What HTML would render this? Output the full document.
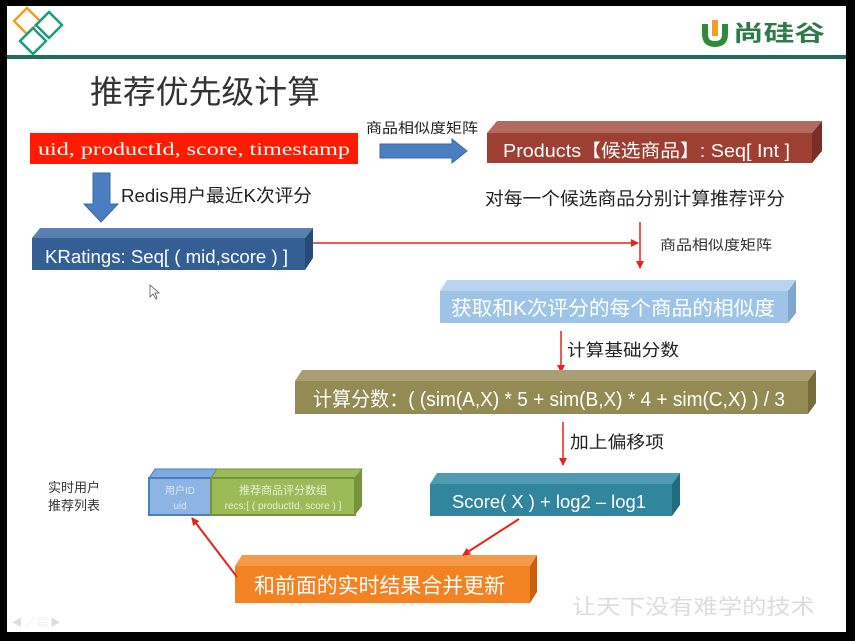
<!DOCTYPE html>
<html><head><meta charset="utf-8"><style>
html,body{margin:0;padding:0;background:#000;}
svg{display:block;}
text{font-family:"Liberation Sans","Noto Sans CJK SC",sans-serif;}
.mono{font-family:"Liberation Serif","Noto Sans CJK SC",serif;}
</style></head><body>
<svg width="855" height="641" viewBox="0 0 855 641" xmlns="http://www.w3.org/2000/svg">
<defs>
<marker id="ar" markerWidth="8" markerHeight="8" refX="7" refY="4" orient="auto" markerUnits="userSpaceOnUse"><path d="M0,0 L8,4 L0,8 z" fill="#e8231b"/></marker>
</defs>
<rect x="0" y="0" width="855" height="641" fill="#000"/>
<rect x="7" y="6" width="839" height="626" fill="#fff"/>
<rect x="7" y="55" width="839" height="4" fill="#1f6e5e"/>
<g fill="none" stroke-width="2.5">
<path d="M27,8 L40,21 L27,34 L14,21 z" stroke="#f0a020"/>
<path d="M49,12 L62,25 L49,38 L36,25 z" stroke="#1a9a86"/>
<path d="M33,28 L46,41 L33,54 L20,41 z" stroke="#1a9a86"/>
</g>
<path d="M705,24 L705,34 Q705,44 715,44 Q725,44 725,34 L725,24" fill="none" stroke="#2f8a3a" stroke-width="6"/>
<rect x="712" y="20" width="6" height="16" fill="#f0a020"/>
<text x="733" y="41" font-size="22" font-weight="bold" fill="#2f7a4a" textLength="92" lengthAdjust="spacingAndGlyphs">尚硅谷</text>
<text x="90" y="103" font-size="32" fill="#333" textLength="230" lengthAdjust="spacingAndGlyphs">推荐优先级计算</text>

<rect x="30" y="133" width="328" height="31" fill="#ff1a00"/>
<text class="mono" x="38" y="155" font-size="18" fill="#fff" textLength="312" lengthAdjust="spacingAndGlyphs">uid, productId, score, timestamp</text>

<text x="366" y="133" font-size="14" fill="#222" textLength="112" lengthAdjust="spacingAndGlyphs">商品相似度矩阵</text>
<path d="M380,144 L452,144 L452,139 L467,151 L452,163 L452,158 L380,158 z" fill="#4a7ec0" stroke="#3a6aa8"/>

<path d="M487,133 L497,121 L822,121 L812,133 z" fill="#b36b60"/>
<path d="M812,133 L822,121 L822,151 L812,163 z" fill="#7a2e25"/>
<rect x="487" y="133" width="325" height="30" fill="#9e3f33"/>
<text x="503" y="157" font-size="18" fill="#fff" textLength="287" lengthAdjust="spacingAndGlyphs">Products【候选商品】: Seq[ Int ]</text>

<path d="M93,173 L110,173 L110,204 L118,204 L101,222 L84,204 L93,204 z" fill="#4a7ec0" stroke="#3a6aa8"/>
<text x="121" y="202" font-size="18" fill="#222" textLength="191" lengthAdjust="spacingAndGlyphs">Redis用户最近K次评分</text>
<text x="485" y="205" font-size="18" fill="#222" textLength="300" lengthAdjust="spacingAndGlyphs">对每一个候选商品分别计算推荐评分</text>

<path d="M32,238 L40,228 L313,228 L305,238 z" fill="#5a7fb0"/>
<path d="M305,238 L313,228 L313,258 L305,270 z" fill="#254a78"/>
<rect x="32" y="238" width="273" height="32" fill="#335f94"/>
<text x="45" y="263" font-size="18" fill="#fff" textLength="243" lengthAdjust="spacingAndGlyphs">KRatings: Seq[ ( mid,score ) ]</text>
<line x1="313" y1="243" x2="638" y2="243" stroke="#e8231b" stroke-width="1.5" marker-end="url(#ar)"/>
<line x1="640" y1="222" x2="640" y2="268" stroke="#e8231b" stroke-width="1.5" marker-end="url(#ar)"/>
<text x="660" y="250" font-size="14" fill="#333" textLength="112" lengthAdjust="spacingAndGlyphs">商品相似度矩阵</text>
<path d="M150,285 L150,297 L153,294 L156,299 L157,298 L155,293 L159,293 z" fill="#fff" stroke="#555" stroke-width="0.8"/>

<path d="M440,291 L447,280 L796,280 L788,291 z" fill="#b8d4ee"/>
<path d="M788,291 L796,280 L796,313 L788,323 z" fill="#7ea6d0"/>
<rect x="440" y="291" width="348" height="32" fill="#9dc3e6"/>
<text x="451" y="315" font-size="20" fill="#fff" textLength="324" lengthAdjust="spacingAndGlyphs">获取和K次评分的每个商品的相似度</text>

<line x1="561" y1="331" x2="561" y2="372" stroke="#e8231b" stroke-width="1.5" marker-end="url(#ar)"/>
<text x="567" y="356" font-size="17" fill="#222" textLength="112" lengthAdjust="spacingAndGlyphs">计算基础分数</text>

<path d="M295,381 L302,370 L816,370 L808,381 z" fill="#aa9f72"/>
<path d="M808,381 L816,370 L816,403 L808,414 z" fill="#756c3e"/>
<rect x="295" y="381" width="513" height="33" fill="#948a54"/>
<text x="313" y="406" font-size="20" fill="#fff" textLength="472" lengthAdjust="spacingAndGlyphs">计算分数：( (sim(A,X) * 5 + sim(B,X) * 4 + sim(C,X) ) / 3</text>

<line x1="563" y1="422" x2="563" y2="465" stroke="#e8231b" stroke-width="1.5" marker-end="url(#ar)"/>
<text x="570" y="448" font-size="17" fill="#222" textLength="94" lengthAdjust="spacingAndGlyphs">加上偏移项</text>

<path d="M430,484 L437,473 L680,473 L672,484 z" fill="#4f9bb2"/>
<path d="M672,484 L680,473 L680,505 L672,516 z" fill="#216a80"/>
<rect x="430" y="484" width="242" height="32" fill="#31859c"/>
<text x="452" y="508" font-size="18" fill="#fff" textLength="194" lengthAdjust="spacingAndGlyphs">Score( X ) + log2 – log1</text>

<text x="48" y="492" font-size="13" fill="#333">实时用户</text>
<text x="48" y="510" font-size="13" fill="#333">推荐列表</text>
<path d="M149,478 L155,469 L218,469 L212,478 z" fill="#7eaae2" stroke="#4a7ec0" stroke-width="1"/>
<rect x="149" y="478" width="62" height="37" fill="#8db4e2" stroke="#4a7ec0" stroke-width="2"/>
<path d="M211,478 L217,469 L362,469 L355,478 z" fill="#9bbb59" stroke="#76923c"/>
<path d="M355,478 L362,469 L362,506 L355,515 z" fill="#76923c"/>
<rect x="211" y="478" width="144" height="37" fill="#9bbb59" stroke="#76923c" stroke-width="2"/>
<text x="180" y="494" font-size="10" fill="#dde8f5" text-anchor="middle">用户ID</text>
<text x="180" y="509" font-size="10" fill="#dde8f5" text-anchor="middle">uid</text>
<text x="283" y="494" font-size="11" fill="#e6efd4" text-anchor="middle">推荐商品评分数组</text>
<text x="283" y="509" font-size="10" fill="#e6efd4" text-anchor="middle">recs:[ ( productId, score ) ]</text>

<path d="M235,566 L242,555 L537,555 L530,566 z" fill="#f59a4a"/>
<path d="M530,566 L537,555 L537,592 L530,603 z" fill="#c8620e"/>
<rect x="235" y="566" width="295" height="37" fill="#f28222"/>
<text x="254" y="593" font-size="21" fill="#fff" textLength="251" lengthAdjust="spacingAndGlyphs">和前面的实时结果合并更新</text>

<line x1="519" y1="519" x2="463" y2="555" stroke="#e8231b" stroke-width="2" marker-end="url(#ar)"/>
<line x1="237" y1="577" x2="192" y2="518" stroke="#e8231b" stroke-width="2" marker-end="url(#ar)"/>

<text x="572" y="614" font-size="21" fill="#dcdcdc" textLength="243" lengthAdjust="spacingAndGlyphs">让天下没有难学的技术</text>
<text x="12" y="626" font-size="10" fill="#ddd">◀ ╱ ▤ ▶</text>
</svg>
</body></html>
